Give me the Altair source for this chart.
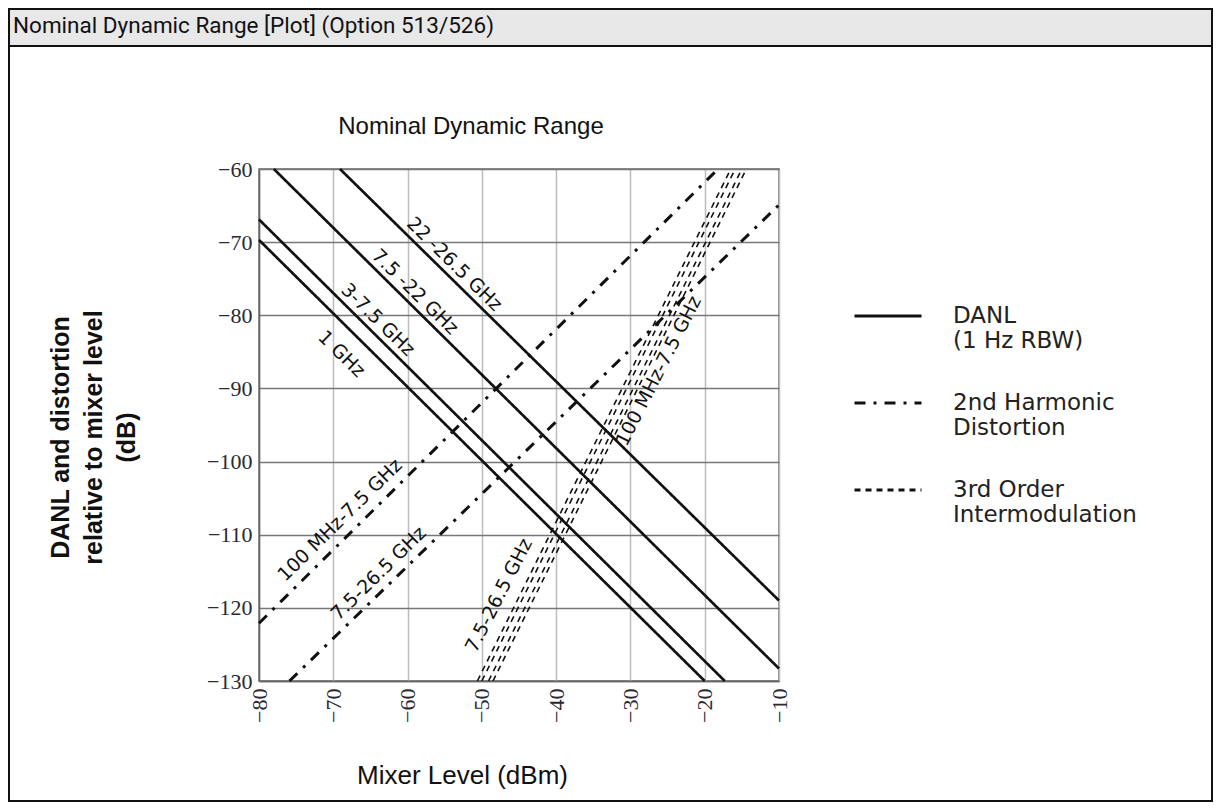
import altair as alt
import pandas as pd

# ---------------- data ----------------
header_text = ["Nominal Dynamic Range [Plot] (Option 513/526)"]
chart_title = "Nominal Dynamic Range"

x_ticks = [-80, -70, -60, -50, -40, -30, -20, -10]
y_ticks = [-130, -120, -110, -100, -90, -80, -70, -60]

type_names = ["DANL\n(1 Hz RBW)", "2nd Harmonic\nDistortion", "3rd Order\nIntermodulation"]

# DANL (1 Hz RBW) lines, start/end points
danl_bands = ["1 GHz", "3-7.5 GHz", "7.5-22 GHz", "22-26.5 GHz"]
danl_x0 = [-80.0, -80.0, -78.0, -69.1]
danl_y0 = [-69.7, -66.9, -60.0, -60.0]
danl_x1 = [-20.0, -17.3, -10.0, -10.0]
danl_y1 = [-130.0, -130.0, -128.3, -119.0]

# 2nd harmonic distortion lines
harm_bands = ["100 MHz-7.5 GHz", "7.5-26.5 GHz"]
harm_x0 = [-80.0, -75.9]
harm_y0 = [-122.1, -130.0]
harm_x1 = [-18.2, -10.0]
harm_y1 = [-60.0, -64.9]

# 3rd order intermodulation (double lines)
im3_bands = ["7.5-26.5 GHz a", "7.5-26.5 GHz b", "100 MHz-7.5 GHz a", "100 MHz-7.5 GHz b"]
im3_x0 = [-50.6, -50.0, -49.1, -48.5]
im3_y0 = [-130.0, -130.0, -130.0, -130.0]
im3_x1 = [-16.5, -15.9, -15.0, -14.4]
im3_y1 = [-60.0, -60.0, -60.0, -60.0]

# in-plot labels
danl_label_text = ["1 GHz", "3-7.5 GHz", "7.5 -22 GHz", "22 -26.5 GHz"]
danl_label_x = [-68.9, -64.0, -59.0, -53.7]
danl_label_y = [-85.3, -80.6, -76.8, -73.0]
harm_label_text = ["100 MHz-7.5 GHz", "7.5-26.5 GHz"]
harm_label_x = [-69.1, -63.9]
harm_label_y = [-108.0, -115.3]
im3_label_text = ["7.5-26.5 GHz", "100 MHz-7.5 GHz"]
im3_label_x = [-47.7, -26.2]
im3_label_y = [-118.3, -87.6]


def seg_rows(bands, x0, y0, x1, y1, tname):
    rows = []
    for b, a, c, d, e in zip(bands, x0, y0, x1, y1):
        rows.append({"band": b, "x": a, "y": c, "ord": 0, "type": tname})
        rows.append({"band": b, "x": d, "y": e, "ord": 1, "type": tname})
    return rows


danl_df = pd.DataFrame(seg_rows(danl_bands, danl_x0, danl_y0, danl_x1, danl_y1, type_names[0]))
harm_df = pd.DataFrame(seg_rows(harm_bands, harm_x0, harm_y0, harm_x1, harm_y1, type_names[1]))
im3_df = pd.DataFrame(seg_rows(im3_bands, im3_x0, im3_y0, im3_x1, im3_y1, type_names[2]))

danl_lab = pd.DataFrame({"t": danl_label_text, "x": danl_label_x, "y": danl_label_y})
harm_lab = pd.DataFrame({"t": harm_label_text, "x": harm_label_x, "y": harm_label_y})
im3_lab = pd.DataFrame({"t": im3_label_text, "x": im3_label_x, "y": im3_label_y})

W, H = 520, 512
PAD = {"left": 251, "top": 161, "right": 434, "bottom": 122}

xscale = alt.Scale(domain=[-80, -10], nice=False, zero=False)
yscale = alt.Scale(domain=[-130, -60], nice=False, zero=False)

x_axis = alt.Axis(
    values=x_ticks, labelAngle=-90, ticks=False, labelPadding=7,
    labelFont="Liberation Serif", labelFontSize=22, labelColor="#2a2a33",
    gridColor="#bdbdbd", gridWidth=1.5, domainColor="#666", domainWidth=1.5,
    title="Mixer Level (dBm)", titleFont="Liberation Sans", titleFontSize=26,
    titleFontWeight="normal", titleColor="#111", titleX=203, titleY=102,
    titleAlign="center", titleBaseline="alphabetic",
)
y_axis = alt.Axis(
    values=y_ticks, ticks=False, labelPadding=7,
    labelFont="Liberation Serif", labelFontSize=22, labelColor="#2a2a33",
    gridColor="#777", gridWidth=1.5, domainColor="#666", domainWidth=1.5,
    title=["DANL and distortion", "relative to mixer level", "(dB)"],
    titleFont="Liberation Sans", titleFontSize=25, titleFontWeight="bold",
    titleColor="#111", titleLineHeight=33, titleAngle=270,
    titleX=-211, titleY=268, titleAlign="center", titleBaseline="top",
)

X = alt.X("x:Q", scale=xscale, axis=x_axis)
Y = alt.Y("y:Q", scale=yscale, axis=y_axis)

dash_scale = alt.Scale(domain=type_names, range=[[1, 0], [11, 8, 3, 8], [6, 5]])
legend = alt.Legend(
    orient="none", legendX=594, legendY=112, title=None,
    symbolType="stroke", symbolSize=4489, symbolStrokeWidth=3,
    symbolStrokeColor="#111", labelFont="DejaVu Sans", labelFontSize=23,
    labelColor="#222", labelExpr="split(datum.label, '\\n')", labelLimit=400,
    labelOffset=30, rowPadding=15, padding=0,
)


def lines(df, width):
    return alt.Chart(df).mark_line(color="#111", strokeWidth=width, strokeCap="butt").encode(
        x=X, y=Y,
        detail="band:N",
        order="ord:O",
        strokeDash=alt.StrokeDash("type:N", scale=dash_scale, legend=legend),
    )


def labels(df, angle):
    return alt.Chart(df).mark_text(
        angle=angle, font="DejaVu Sans", fontSize=19, color="#111",
        align="center", baseline="middle",
    ).encode(x=X, y=Y, text="t:N")


frame_df = pd.DataFrame({"k": [0]})
header_band = alt.Chart(frame_df).mark_rect(fill="#e8e8e8", stroke="#111", strokeWidth=2).encode(
    x=alt.value(-250), x2=alt.value(953), y=alt.value(-160), y2=alt.value(-123)
)
body_box = alt.Chart(frame_df).mark_rect(fill="white", fillOpacity=0, stroke="#111", strokeWidth=2).encode(
    x=alt.value(-250), x2=alt.value(953), y=alt.value(-123), y2=alt.value(632)
)
header = alt.Chart(pd.DataFrame({"t": header_text})).mark_text(
    font="Roboto", fontSize=22.5, color="#111", align="left", baseline="alphabetic"
).encode(text="t:N", x=alt.value(-246), y=alt.value(-136))

chart = alt.layer(
    header_band,
    body_box,
    header,
    lines(danl_df, 2.7),
    lines(harm_df, 3.0),
    lines(im3_df, 1.6),
    labels(danl_lab, 44.5),
    labels(harm_lab, 315.5),
    labels(im3_lab, 297),
).properties(
    width=W, height=H, autosize="none", padding=PAD,
    title=alt.Title(chart_title, font="Liberation Sans", fontSize=24, fontWeight="normal",
                    color="#111", anchor="middle", frame="group", dx=-48, offset=0,
                    dy=155, baseline="bottom"),
).configure_view(stroke="#666", strokeWidth=1.5)

chart.save("out.html", embed_options={"renderer": "svg", "actions": False})
